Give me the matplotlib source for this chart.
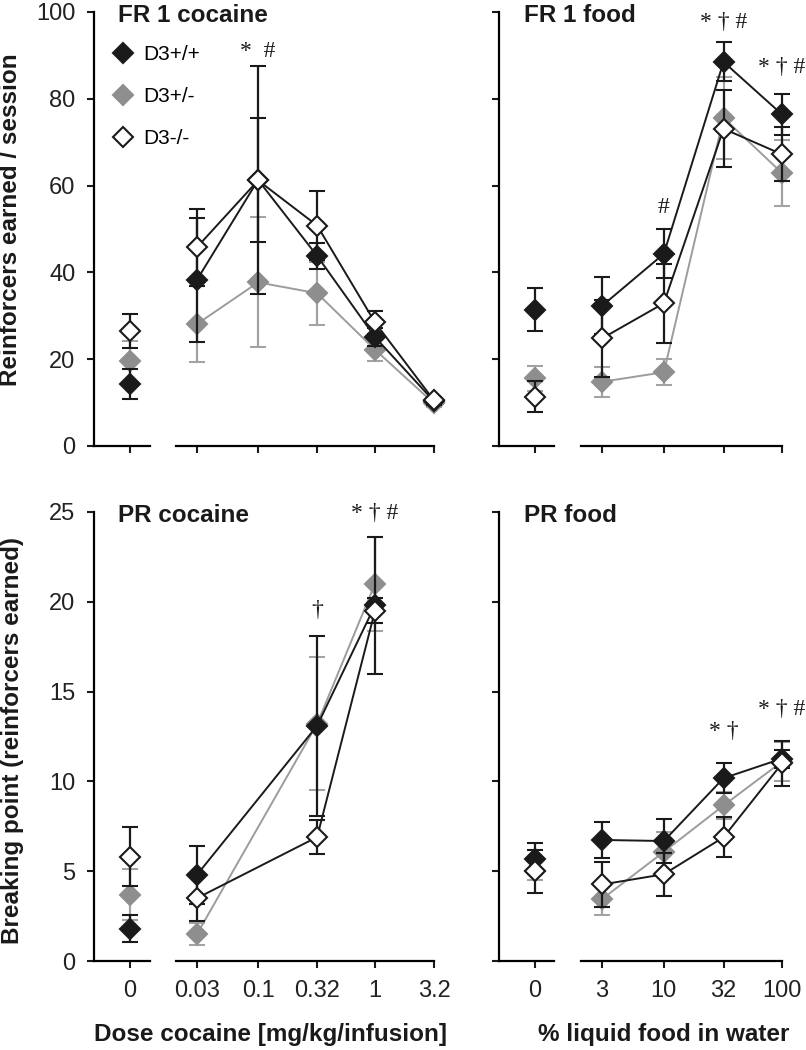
import matplotlib.pyplot as plt
from matplotlib.lines import Line2D
from matplotlib.ticker import NullLocator

plt.rcParams['font.family'] = ['Liberation Sans', 'DejaVu Sans']

genotypes = ['D3+/+', 'D3+/-', 'D3-/-']

coc_doses = [0.03, 0.1, 0.32, 1, 3.2]
coc_labels = ['0.03', '0.1', '0.32', '1', '3.2']
food_conc = [3, 10, 32, 100]
food_labels = ['3', '10', '32', '100']

# FR 1 cocaine (zero dose = saline, then doses)
fr_coc_zero = [14.3, 19.5, 26.5]
fr_coc_zero_err = [3.5, 4.8, 4.0]
fr_coc_wt = [38.3, 61.3, 43.8, 25.1, 10.3]
fr_coc_wt_err = [14.3, 26.2, 3.0, 2.0, 0.8]
fr_coc_het = [28.1, 37.7, 35.2, 22.2, 9.8]
fr_coc_het_err = [8.7, 15.0, 7.3, 2.6, 0.8]
fr_coc_ko = [45.8, 61.2, 50.8, 28.5, 10.5]
fr_coc_ko_err = [8.9, 14.3, 7.9, 2.7, 0.8]

# FR 1 food
fr_food_zero = [31.4, 15.6, 11.4]
fr_food_zero_err = [4.9, 2.9, 3.6]
fr_food_wt = [32.3, 44.3, 88.5, 76.4]
fr_food_wt_err = [6.6, 5.7, 4.5, 4.8]
fr_food_het = [14.8, 17.0, 75.6, 62.9]
fr_food_het_err = [3.4, 3.0, 9.5, 7.7]
fr_food_ko = [24.8, 32.9, 73.1, 67.2]
fr_food_ko_err = [8.8, 9.1, 8.9, 6.2]

# PR cocaine (no data at 0.1 and 3.2)
pr_coc_doses = [0.03, 0.32, 1]
pr_coc_zero = [1.8, 3.7, 5.8]
pr_coc_zero_err = [0.75, 1.4, 1.65]
pr_coc_wt = [4.8, 13.1, 19.8]
pr_coc_wt_err = [1.6, 5.0, 3.8]
pr_coc_het = [1.5, 13.2, 21.0]
pr_coc_het_err = [0.6, 3.7, 2.6]
pr_coc_ko = [3.5, 6.9, 19.5]
pr_coc_ko_err = [1.3, 0.95, 0.7]

# PR food
pr_food_zero = [5.7, 5.0, 5.0]
pr_food_zero_err = [0.87, 0.5, 1.2]
pr_food_wt = [6.74, 6.68, 10.18, 11.27]
pr_food_wt_err = [1.0, 1.25, 0.85, 0.5]
pr_food_het = [3.45, 6.08, 8.66, 11.1]
pr_food_het_err = [0.9, 1.1, 0.75, 1.1]
pr_food_ko = [4.26, 4.83, 6.89, 11.0]
pr_food_ko_err = [1.25, 1.2, 1.1, 1.25]

BLACK = '#1a1a1a'
GREY = '#8e8e8e'
styles = [
    dict(mfc=BLACK, mec=BLACK, color=BLACK, ecolor=BLACK, zorder=4),
    dict(mfc=GREY, mec=GREY, color='#9c9c9c', ecolor='#a3a3a3', zorder=3),
    dict(mfc='white', mec=BLACK, color=BLACK, ecolor=BLACK, zorder=5),
]
MS = 10.5

fig = plt.figure(figsize=(8.06, 10.5), dpi=100)
W, H = 806.0, 1050.0


def px_axes(x0, x1, ytop, ybot):
    return fig.add_axes([x0 / W, 1 - ybot / H, (x1 - x0) / W, (ybot - ytop) / H])


def style_axes(ax):
    for s in ['top', 'right']:
        ax.spines[s].set_visible(False)
    for s in ['left', 'bottom']:
        ax.spines[s].set_linewidth(1.6)
    ax.tick_params(direction='out', length=5, width=1.5, labelsize=17,
                   colors=BLACK, labelcolor='#222222')
    ax.tick_params(axis='y', pad=8)
    ax.tick_params(axis='x', pad=9)
    ax.patch.set_visible(False)


def draw(ax, xs, ys, errs, st):
    ax.errorbar(xs, ys, yerr=errs, fmt='-D', ms=MS, mew=1.5, lw=1.4,
                elinewidth=1.6, capsize=6, capthick=1.6, clip_on=False, **st)


panels = [
    dict(ytop=12, ybot=446, left=True, ymax=100, ystep=20, xlabels=False,
         zero=fr_coc_zero, zero_err=fr_coc_zero_err,
         xs=coc_doses, series=[(fr_coc_wt, fr_coc_wt_err), (fr_coc_het, fr_coc_het_err),
                               (fr_coc_ko, fr_coc_ko_err)],
         title='FR 1 cocaine'),
    dict(ytop=12, ybot=446, left=False, ymax=100, ystep=20, xlabels=False,
         zero=fr_food_zero, zero_err=fr_food_zero_err,
         xs=food_conc, series=[(fr_food_wt, fr_food_wt_err), (fr_food_het, fr_food_het_err),
                               (fr_food_ko, fr_food_ko_err)],
         title='FR 1 food'),
    dict(ytop=512, ybot=961, left=True, ymax=25, ystep=5, xlabels=True,
         zero=pr_coc_zero, zero_err=pr_coc_zero_err,
         xs=pr_coc_doses, series=[(pr_coc_wt, pr_coc_wt_err), (pr_coc_het, pr_coc_het_err),
                                  (pr_coc_ko, pr_coc_ko_err)],
         title='PR cocaine'),
    dict(ytop=512, ybot=961, left=False, ymax=25, ystep=5, xlabels=True,
         zero=pr_food_zero, zero_err=pr_food_zero_err,
         xs=food_conc, series=[(pr_food_wt, pr_food_wt_err), (pr_food_het, pr_food_het_err),
                               (pr_food_ko, pr_food_ko_err)],
         title='PR food'),
]

dose_axes = []
for p in panels:
    if p['left']:
        zx0, zx1, zpos = 93.5, 150, 130
        dx0, dx1 = 176, 434
        xlim = (0.01984, 3.2)
        ticks, labels = coc_doses, coc_labels
    else:
        zx0, zx1, zpos = 498.5, 554, 535
        dx0, dx1 = 581, 782
        xlim = (1.988, 100)
        ticks, labels = food_conc, food_labels

    az = px_axes(zx0, zx1, p['ytop'], p['ybot'])
    ad = px_axes(dx0, dx1, p['ytop'], p['ybot'])
    style_axes(az)
    style_axes(ad)

    frac = (zpos - zx0) / (zx1 - zx0)
    az.set_xlim(-frac, 1 - frac)
    az.set_xticks([0])
    az.set_xticklabels(['0'] if p['xlabels'] else [])
    az.set_ylim(0, p['ymax'])
    az.set_yticks(range(0, p['ymax'] + 1, p['ystep']))
    if not p['left']:
        az.set_yticklabels([])

    ad.set_xscale('log')
    ad.set_xlim(*xlim)
    ad.xaxis.set_minor_locator(NullLocator())
    ad.set_xticks(ticks)
    ad.set_xticklabels(labels if p['xlabels'] else [])
    ad.set_ylim(0, p['ymax'])
    ad.spines['left'].set_visible(False)
    ad.set_yticks([])

    for i, st in enumerate(styles):
        draw(az, [0], [p['zero'][i]], [p['zero_err'][i]], st)
        ys, es = p['series'][i]
        draw(ad, p['xs'], ys, es, st)

    fig.text((zx0 + 25) / W, 1 - (p['ytop'] + 3) / H, p['title'], fontsize=17.5,
             fontweight='bold', ha='left', va='center', color=BLACK)
    dose_axes.append(ad)

# significance marks
ann = dict(ha='center', va='center', fontsize=17, family=['Liberation Serif', 'DejaVu Serif'],
           color=BLACK)
dose_axes[0].text(0.1, 91, '*  #', **ann)
dose_axes[1].text(10, 55, '#', **ann)
dose_axes[1].text(32, 97.5, '* † #', **ann)
dose_axes[1].text(100, 87.2, '* † #', clip_on=False, **ann)
dose_axes[2].text(0.32, 19.5, '†', **ann)
dose_axes[2].text(1, 24.9, '* † #', clip_on=False, **ann)
dose_axes[3].text(32, 12.8, '* †', **ann)
dose_axes[3].text(100, 14.0, '* † #', clip_on=False, **ann)

# legend
handles = [Line2D([], [], ls='none', marker='D', ms=MS, mew=1.5,
                  mfc=st['mfc'], mec=st['mec']) for st in styles]
fig.legend(handles, genotypes, loc='upper left', bbox_to_anchor=(112.6 / W, 1 - 45 / H),
           frameon=False, fontsize=15, handlelength=1.0, handletextpad=0.46,
           labelspacing=1.1, borderpad=0, borderaxespad=0)

# axis titles
fig.text(11 / W, 1 - 220 / H, 'Reinforcers earned / session', rotation=90, fontsize=17.5,
         fontweight='bold', ha='center', va='center', color=BLACK)
fig.text(13 / W, 1 - 740 / H, 'Breaking point (reinforcers earned)', rotation=90,
         fontsize=17.5, fontweight='bold', ha='center', va='center', color=BLACK)
fig.text(271 / W, 1 - 1035 / H, 'Dose cocaine [mg/kg/infusion]', fontsize=17.5,
         fontweight='bold', ha='center', va='center', color=BLACK)
fig.text(664 / W, 1 - 1035 / H, '% liquid food in water', fontsize=17.5,
         fontweight='bold', ha='center', va='center', color=BLACK)

fig.savefig('out.png', dpi=100)
